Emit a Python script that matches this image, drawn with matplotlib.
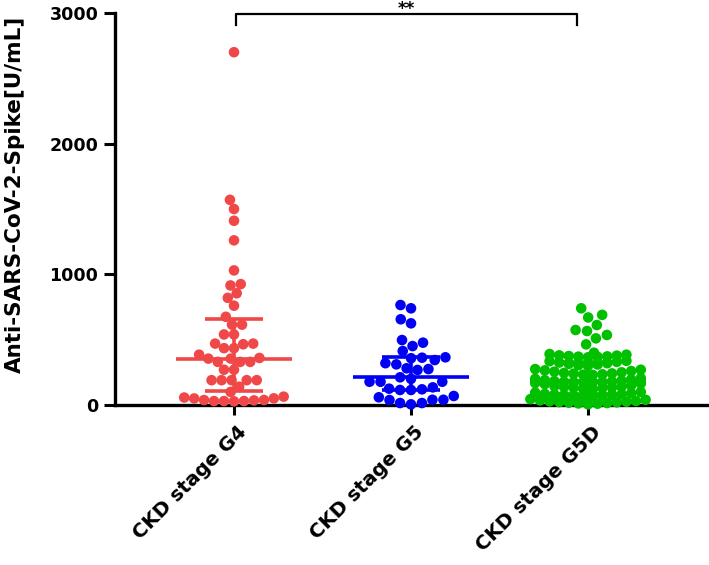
import numpy as np
import matplotlib
matplotlib.use("Agg")
import matplotlib.pyplot as plt
from matplotlib.transforms import ScaledTranslation

plt.rcParams['font.family'] = ['DejaVu Sans']
plt.rcParams['font.weight'] = 'bold'

categories = ["CKD stage G4", "CKD stage G5", "CKD stage G5D"]
colors = ["#F04848", "#0000F5", "#00C000"]

g4 = [2700, 1570, 1500, 1410, 1260, 1030, 925, 915, 855, 820, 760, 675, 615, 615,
      540, 540, 470, 465, 470, 435, 435, 385, 360, 355, 355, 330, 330, 330, 270, 270,
      190, 190, 190, 190, 190, 140, 100,
      57, 50, 38, 38, 30, 28, 30, 30, 35, 51, 64]
g5 = [765, 740, 656, 625, 497, 477, 451, 413, 365, 362, 358, 344, 320, 311, 281, 275,
      268, 212, 200, 178, 178, 178, 135, 125, 120, 115, 115, 69, 59, 40, 38, 15, 5, 15, 40]
g5d = [740, 690, 670, 612, 574, 566, 536, 510, 464, 400,
       390, 385, 380, 378, 375, 372, 370, 368, 365,
       338, 335, 330, 325, 320, 315, 310, 305, 300,
       275, 270, 265, 260, 255, 250, 245, 242, 240, 235, 232, 230,
       205, 200, 195, 190, 186, 183, 180, 178, 176, 175, 173, 172,
       168, 165, 160, 150, 145, 140, 138, 135, 132, 130, 125, 120,
       100, 95, 90, 85, 82, 80, 78, 75, 72, 70, 65, 60,
       45, 40, 35, 30, 28, 25, 22, 20, 18, 15, 12, 10, 5]
groups = [g4, g5, g5d]

yticks = [0, 1000, 2000, 3000]
sig_label = "**"

W, H = 709, 565
fig = plt.figure(figsize=(W / 100, H / 100), dpi=100)
ax_l, ax_r, ax_t, ax_b = 115, 708, 13, 405
ax = fig.add_axes([ax_l / W, 1 - ax_b / H, (ax_r - ax_l) / W, (ax_b - ax_t) / H])

px_per_x = 177.0
x_left = -(234 - ax_l) / px_per_x
x_right = 2 + (ax_r - 588) / px_per_x
ax.set_xlim(x_left, x_right)
ax.set_ylim(0, 3000)
px_per_y = (ax_b - ax_t) / 3000.0


def swarm(vals, d):
    vals = np.asarray(vals, float)
    order = np.argsort(vals)
    ys = vals * px_per_y
    xs = np.zeros(len(vals))
    placed = []
    for i in order:
        y = ys[i]
        cands = [0.0]
        for (xj, yj) in placed:
            dy = y - yj
            if abs(dy) < d:
                dx = np.sqrt(d * d - dy * dy)
                cands += [xj + dx, xj - dx]
        cands = sorted(cands, key=lambda c: (abs(c), c))
        for c in cands:
            ok = True
            for (xj, yj) in placed:
                if (c - xj) ** 2 + (y - yj) ** 2 < d * d - 1e-6:
                    ok = False
                    break
            if ok:
                xs[i] = c
                placed.append((c, y))
                break
    return xs / px_per_x


def binned(vals, bin_px, step_px):
    vals = np.asarray(vals, float)
    xs = np.zeros(len(vals))
    bins = np.floor(vals * px_per_y / bin_px).astype(int)
    for b in np.unique(bins):
        idx = np.where(bins == b)[0]
        idx = idx[np.argsort(vals[idx])]
        n = len(idx)
        slots = (np.arange(n) - (n - 1) / 2.0) * step_px
        slot_order = sorted(range(n), key=lambda j: (abs(slots[j]), slots[j] * (1 if b % 2 else -1)))
        for v_i, s_j in zip(idx, slot_order):
            xs[v_i] = slots[s_j]
    return xs / px_per_x


def hybrid(vals, split, bin_px, step_px, d):
    vals = np.asarray(vals, float)
    xs = np.zeros(len(vals))
    lo = vals < split
    xs[lo] = binned(vals[lo], bin_px, step_px)
    xs[~lo] = swarm(vals[~lo], d) + 6.0 / px_per_x
    return xs


layouts = [lambda v: swarm(v, 10.0), lambda v: swarm(v, 11.0),
           lambda v: hybrid(v, 395, 7.45, 9.6, 11.5)]
for i, (vals, col) in enumerate(zip(groups, colors)):
    offs = layouts[i](vals)
    ax.scatter(i + offs, vals, s=58, color=col, edgecolors='none', zorder=3, clip_on=False)
    q1, med, q3 = np.percentile(vals, [25, 50, 75], method='weibull')
    kw = dict(color=col, lw=2.6, zorder=4, solid_capstyle='butt')
    ax.plot([i - 0.325, i + 0.325], [med, med], **kw)
    ax.plot([i - 0.165, i + 0.165], [q1, q1], **kw)
    ax.plot([i - 0.165, i + 0.165], [q3, q3], **kw)
    ax.plot([i, i], [q1, q3], **kw)

# significance bracket
ax.plot([0.01, 0.01, 1.94, 1.94], [2905, 2995, 2995, 2905], color='black', lw=1.6,
        clip_on=False, zorder=5)
ax.text((0.01 + 1.94) / 2, 2990, sig_label, ha='center', va='baseline', fontsize=12,
        fontweight='bold', clip_on=False)

for s in ['top', 'right']:
    ax.spines[s].set_visible(False)
for s in ['left', 'bottom']:
    ax.spines[s].set_linewidth(2.4)

ax.set_yticks(yticks)
ax.set_yticklabels([str(v) for v in yticks])
ax.set_xticks(range(len(categories)))
ax.set_xticklabels(categories, rotation=45, ha='right', va='center', rotation_mode='anchor')
ax.tick_params(axis='y', length=8, width=2.2, pad=4, labelsize=12.6)
ax.tick_params(axis='x', length=7, width=2.2, pad=12, labelsize=14.2)
shift = ScaledTranslation(10 / 100, 2 / 100, fig.dpi_scale_trans)
for lab in ax.get_xticklabels():
    lab.set_fontweight('bold')
    lab.set_transform(lab.get_transform() + shift)
for lab in ax.get_yticklabels():
    lab.set_fontweight('bold')

fig.text(15 / W, 1 - 194 / H, "Anti-SARS-CoV-2-Spike[U/mL]", rotation=90, ha='center',
         va='center', fontsize=15.5, fontweight='bold')

fig.savefig("out.png", dpi=100)
